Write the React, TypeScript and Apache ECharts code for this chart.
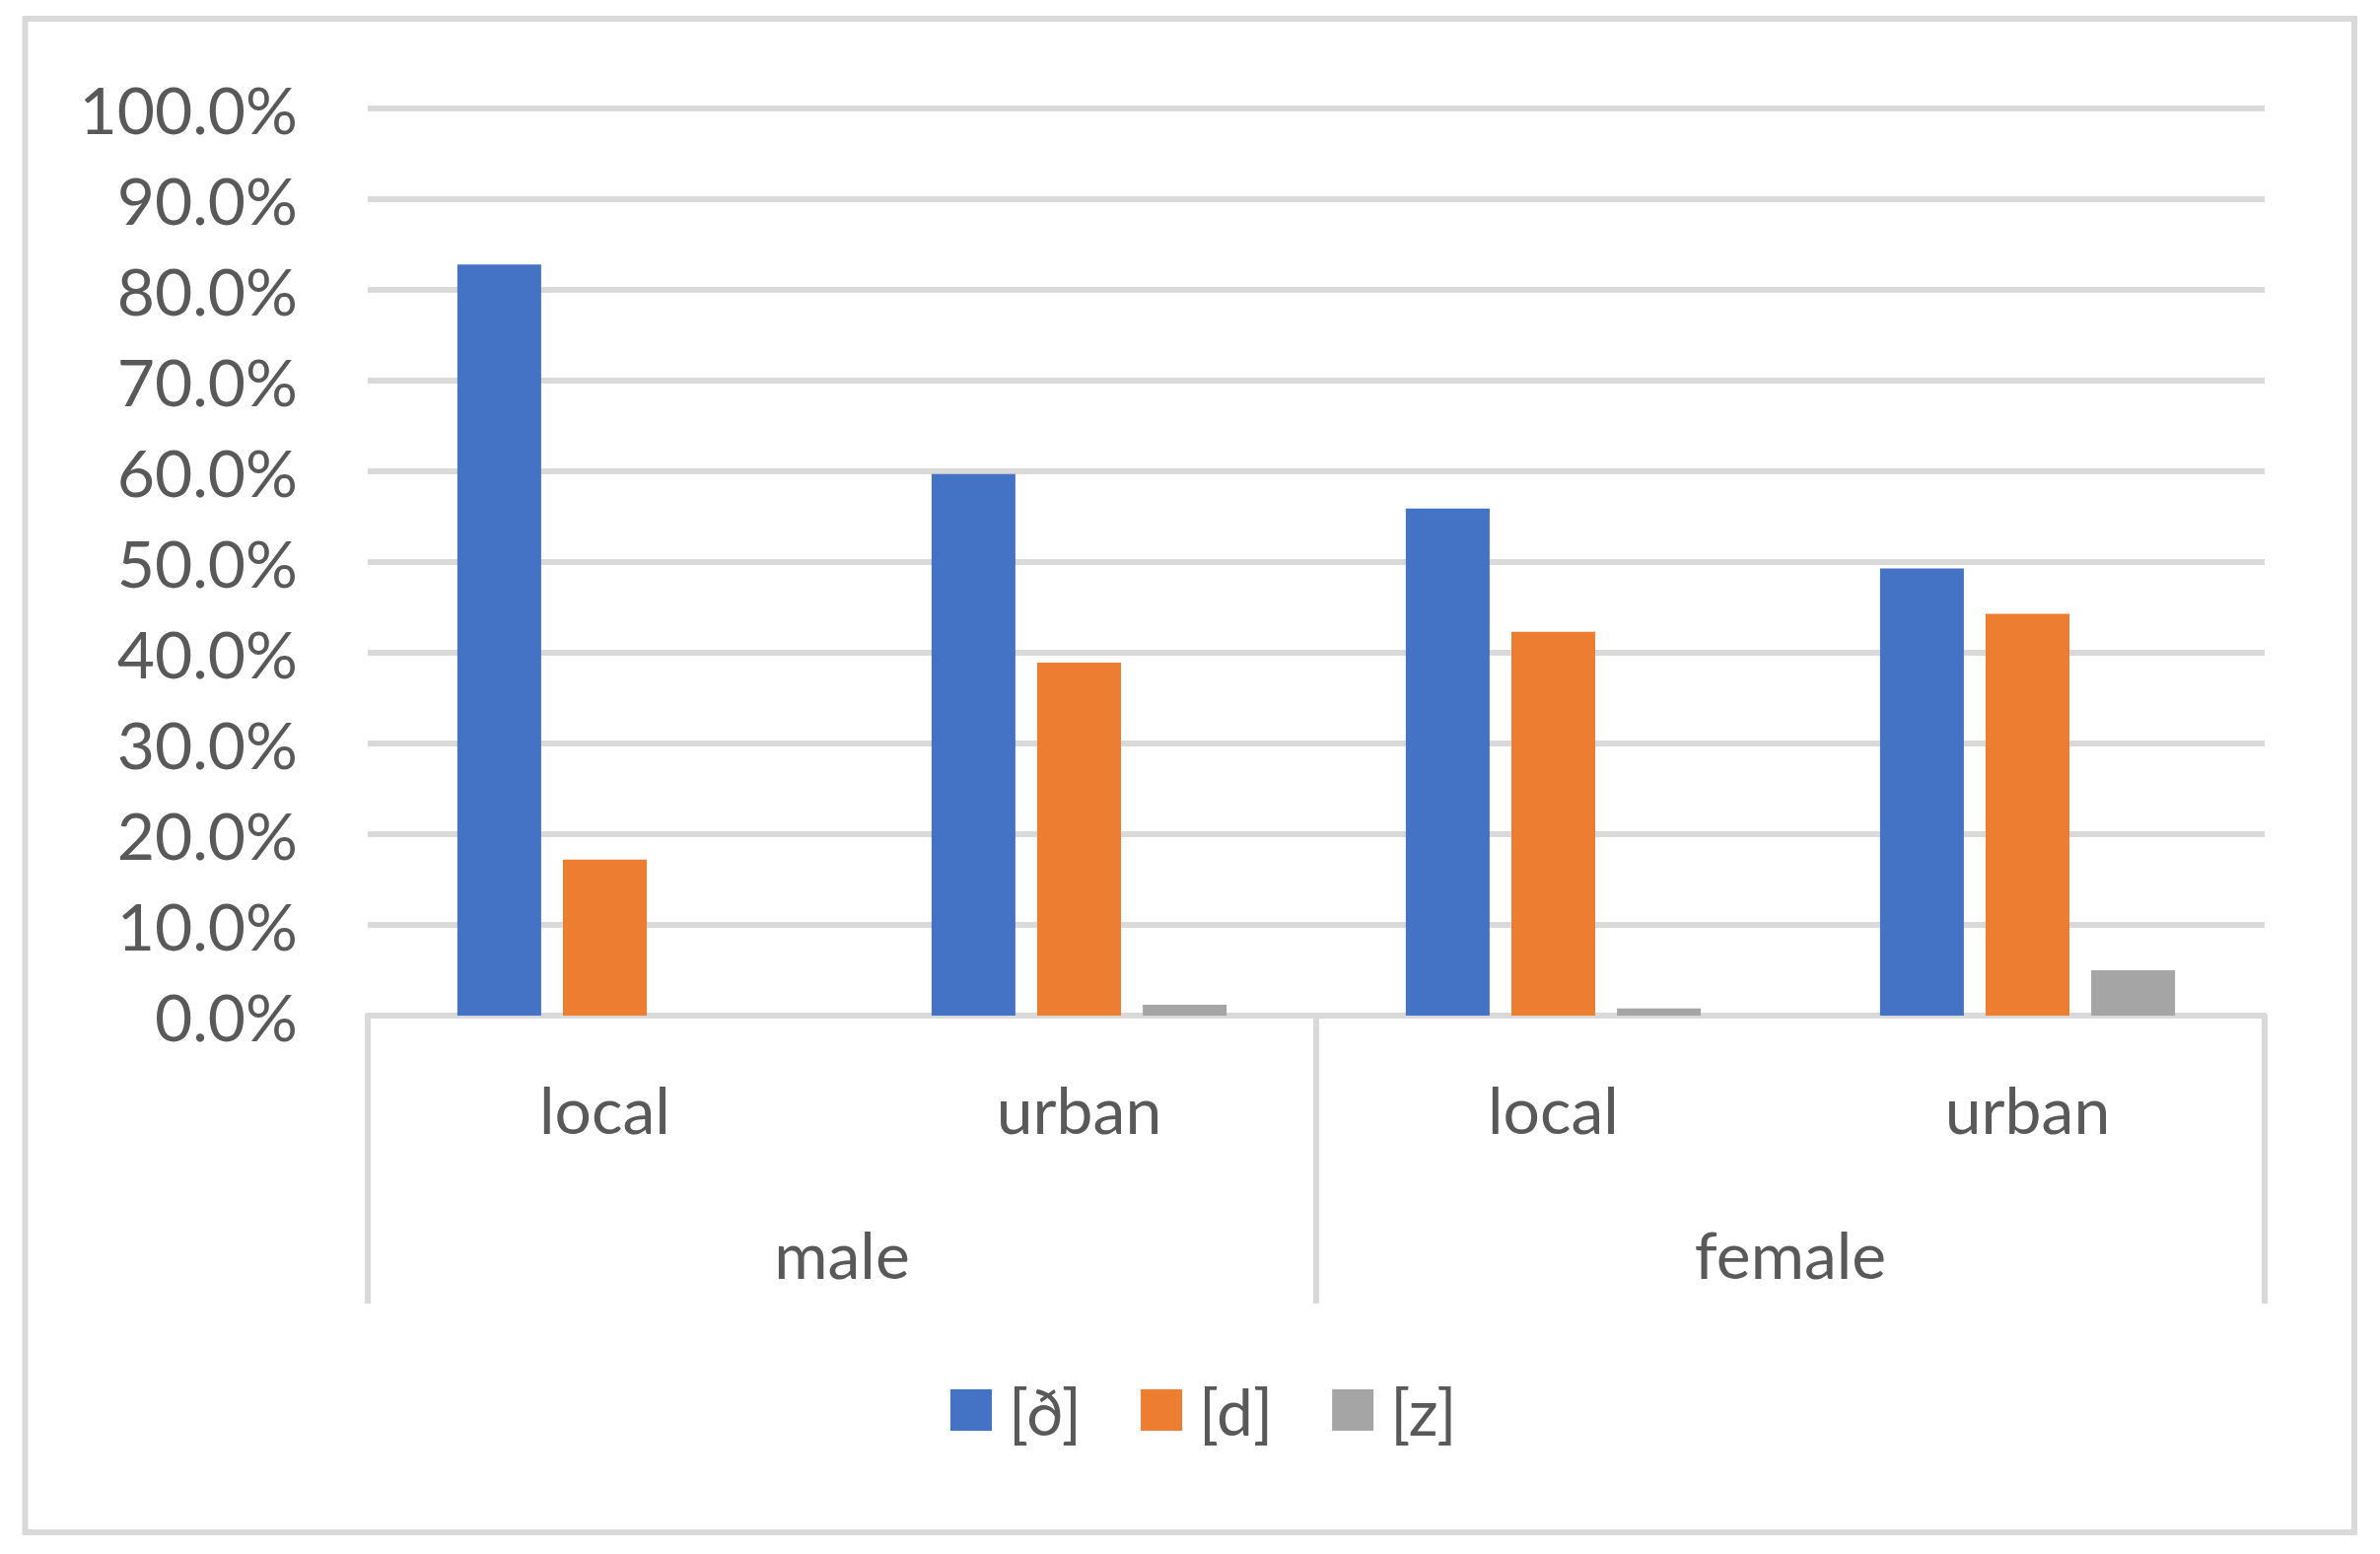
import React, { useEffect, useRef } from "react";
import * as echarts from "echarts";

const subCategories = ["local", "urban", "local", "urban"];
const groupCategories = ["male", "female"];
const seriesNames = ["[ð]", "[d]", "[z]"];
const ethValues = [0.828, 0.597, 0.559, 0.493];
const dValues = [0.172, 0.389, 0.423, 0.443];
const zValues = [0, 0.012, 0.008, 0.05];
const colors = ["#4472C4", "#ED7D31", "#A5A5A5"];

const FONT = "Lato, 'Open Sans', sans-serif";
const TEXT_COLOR = "#595959";
const LINE_COLOR = "#D9D9D9";

export default function App() {
  const ref = useRef<HTMLDivElement>(null);

  useEffect(() => {
    document.body.style.margin = "0";
    if (!ref.current) return;
    const chart = echarts.init(ref.current, undefined, { renderer: "svg" });
    const values = [ethValues, dValues, zValues];
    chart.setOption({
      animation: false,
      backgroundColor: "#FFFFFF",
      textStyle: { fontFamily: FONT },
      grid: { left: 373, right: 117, top: 110, bottom: 546, containLabel: false },
      graphic: [
        {
          type: "rect",
          shape: { x: 25.5, y: 19, width: 2362.5, height: 1535 },
          style: { fill: "none", stroke: LINE_COLOR, lineWidth: 6 },
          silent: true,
        },
      ],
      legend: {
        data: seriesNames,
        left: 959,
        top: 1392,
        icon: "rect",
        itemWidth: 42,
        itemHeight: 42,
        itemGap: 60,
        textStyle: {
          fontFamily: FONT,
          fontSize: 66,
          color: TEXT_COLOR,
          padding: [0, 0, 0, 12],
        },
      },
      xAxis: [
        {
          type: "category",
          data: subCategories,
          position: "bottom",
          offset: 0,
          axisLine: { show: true, lineStyle: { color: LINE_COLOR, width: 6 } },
          axisTick: { show: false },
          axisLabel: {
            fontFamily: FONT,
            fontSize: 66,
            color: TEXT_COLOR,
            margin: 94,
            verticalAlign: "middle",
          },
          splitLine: { show: false },
        },
        {
          type: "category",
          data: groupCategories,
          position: "bottom",
          offset: 0,
          axisLine: { show: false },
          axisTick: {
            show: true,
            length: 292,
            inside: false,
            lineStyle: { color: LINE_COLOR, width: 6 },
          },
          axisLabel: {
            fontFamily: FONT,
            fontSize: 66,
            color: TEXT_COLOR,
            margin: 241,
            verticalAlign: "middle",
          },
          splitLine: { show: false },
        },
      ],
      yAxis: {
        type: "value",
        min: 0,
        max: 1,
        interval: 0.1,
        axisLine: { show: false },
        axisTick: { show: false },
        axisLabel: {
          fontFamily: FONT,
          fontSize: 66,
          color: TEXT_COLOR,
          margin: 71,
          formatter: (v: number) => (v * 100).toFixed(1) + "%",
        },
        splitLine: { show: true, lineStyle: { color: LINE_COLOR, width: 6 } },
      },
      series: seriesNames.map((name, i) => ({
        name,
        type: "bar",
        xAxisIndex: 0,
        data: values[i],
        barWidth: 85,
        barGap: "26%",
        itemStyle: { color: colors[i] },
        z: 3,
      })),
    });
    return () => chart.dispose();
  }, []);

  return (
    <div
      ref={ref}
      style={{ position: "absolute", left: 0, top: 0, width: 2414, height: 1576 }}
    />
  );
}
